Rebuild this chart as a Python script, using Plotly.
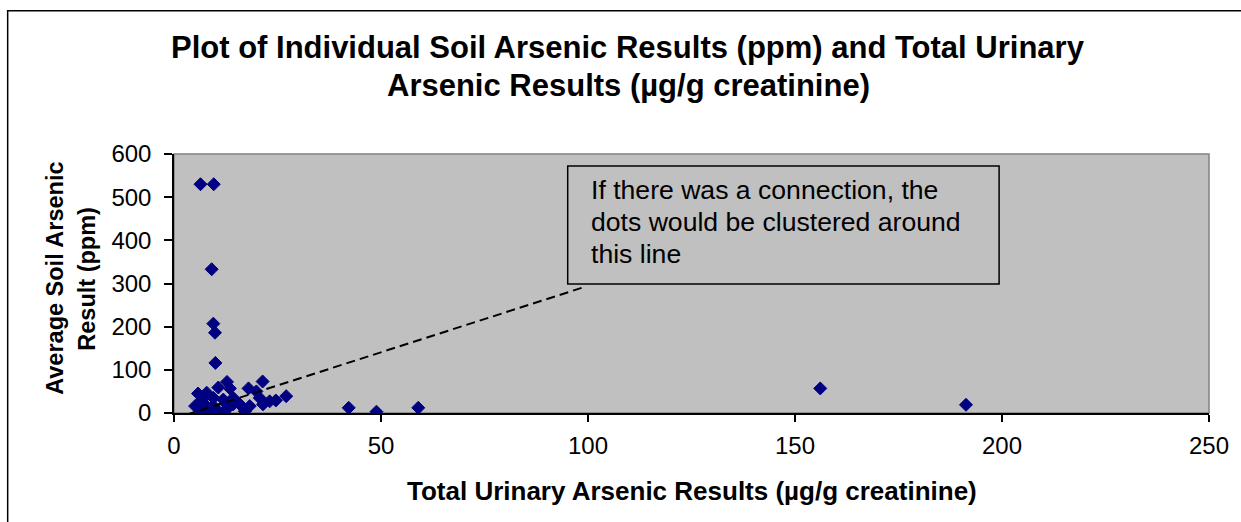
import plotly.graph_objects as go

# Data
urinary_as = [6.4, 9.6, 9.1, 9.5, 9.9, 10.0,
              12.8, 10.7, 13.5, 21.4, 18.0, 27.1, 24.6, 5.8, 7.9, 19.9, 14.3, 20.7,
              9.5, 6.8, 11.9, 23.1,
              5.1, 6.3, 7.9, 9.5, 10.7, 13.1, 14.3, 8.7, 11.9, 15.9, 18.3, 21.5, 17.1,
              7.2, 12.5,
              42.2, 48.9, 59.0, 156.1, 191.3]
soil_as = [530, 530, 333, 207, 186, 116,
           72, 59, 57, 73, 57, 39, 29, 45, 47, 50, 35, 35,
           35, 31, 31, 27,
           16, 8, 12, 16, 4, 12, 20, 1, 1, 20, 16, 20, 4,
           22, 22,
           12, 3, 12, 57, 19]

ref_line_x = [3.0, 99.5]
ref_line_y = [-4, 293]

title_lines = ["Plot of Individual Soil Arsenic Results (ppm) and Total Urinary",
               "Arsenic Results (µg/g creatinine)"]
x_title = "Total Urinary Arsenic Results (µg/g creatinine)"
y_title_lines = ["Average Soil Arsenic", "Result (ppm)"]
note_lines = ["If there was a connection, the",
              "dots would be clustered around",
              "this line"]
x_ticks = [0, 50, 100, 150, 200, 250]
y_ticks = [0, 100, 200, 300, 400, 500, 600]

FONT = "Liberation Sans, Arial, sans-serif"

fig = go.Figure()
fig.add_trace(go.Scatter(
    x=urinary_as, y=soil_as, mode="markers",
    marker=dict(symbol="diamond", size=10, color="#000080",
                line=dict(color="#000080", width=1)),
    showlegend=False, hoverinfo="x+y"))
fig.add_trace(go.Scatter(
    x=ref_line_x, y=ref_line_y, mode="lines",
    line=dict(color="black", width=2, dash="9px,5px"),
    showlegend=False, hoverinfo="skip"))

# plot area border (gray)
fig.add_shape(type="rect", xref="paper", yref="paper", x0=0, x1=1, y0=0, y1=1,
              line=dict(color="#808080", width=1.5), fillcolor="rgba(0,0,0,0)", layer="below")
# outer chart frame
fig.add_shape(type="rect", xref="paper", yref="paper",
              x0=-0.1607, x1=1.05, y0=-0.48, y1=1.553,
              line=dict(color="black", width=1.5), fillcolor="rgba(0,0,0,0)")
# callout box
fig.add_shape(type="rect", xref="x", yref="y", x0=95.1, x1=199.3, y0=299, y1=572,
              line=dict(color="black", width=1.5), fillcolor="#C0C0C0", layer="above")

for line, yv in zip(note_lines, [516.8, 442.8, 368.8]):
    fig.add_annotation(text=line, xref="x", yref="y", x=100.3, y=yv,
                       xanchor="left", yanchor="middle", align="left", showarrow=False,
                       font=dict(family=FONT, size=26.6, color="black"))
for line, yv in zip(title_lines, [1.4123, 1.2659]):
    fig.add_annotation(text="<b>" + line + "</b>",
                       xref="paper", yref="paper", x=0.4389, y=yv,
                       xanchor="center", yanchor="middle", showarrow=False,
                       font=dict(family=FONT, size=31, color="black"))
fig.add_annotation(text="<b>" + x_title + "</b>", xref="paper", yref="paper",
                   x=0.5, y=-0.3025, xanchor="center", yanchor="middle", showarrow=False,
                   font=dict(family=FONT, size=26, color="black"))
for line, xv in zip(y_title_lines, [-0.1145, -0.0837]):
    fig.add_annotation(text="<b>" + line + "</b>",
                       xref="paper", yref="paper", x=xv, y=0.52, textangle=-90,
                       xanchor="center", yanchor="middle", showarrow=False,
                       font=dict(family=FONT, size=23.5, color="black"))

fig.update_layout(
    width=1241, height=522,
    margin=dict(l=174, r=28, t=154, b=108.5, pad=0),
    paper_bgcolor="white", plot_bgcolor="#C0C0C0",
    font=dict(family=FONT, size=24, color="black"),
    xaxis=dict(range=[0, 250], tickvals=x_ticks, showgrid=False, zeroline=False,
               showline=True, linecolor="black", linewidth=1.5,
               ticks="outside", ticklen=7, tickcolor="black", tickwidth=1.5,
               ticklabelstandoff=3, tickfont=dict(size=24)),
    yaxis=dict(range=[0, 600], tickvals=y_ticks, showgrid=False, zeroline=False,
               showline=True, linecolor="black", linewidth=1.5,
               ticks="outside", ticklen=8, tickcolor="black", tickwidth=1.5,
               ticklabelstandoff=8, tickfont=dict(size=24)),
)

fig.write_html("out.html", config={"displayModeBar": False},
               post_script="document.body.style.margin='0';document.body.style.overflow='hidden';")
